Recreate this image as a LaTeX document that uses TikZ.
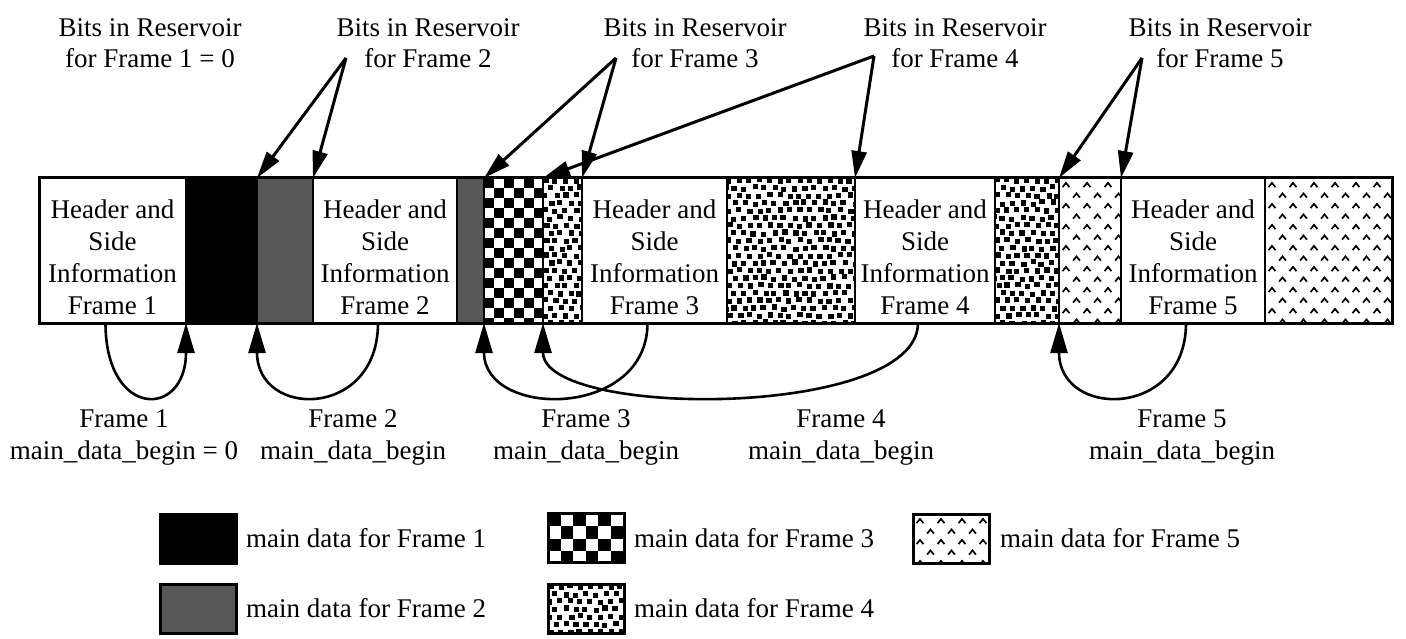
\documentclass[tikz,border=0pt]{standalone}
\usepackage{fontspec}
\setmainfont{Liberation Serif}
\usetikzlibrary{arrows.meta,calc,backgrounds}

% checkerboard: x1 y1 x2 y2 cell
\newcommand{\ckfill}[5]{%
 \begin{scope}
 \clip (#1,#2) rectangle (#3,#4);
 \pgfmathtruncatemacro{\cknx}{ceil((#3-#1)/#5)}
 \pgfmathtruncatemacro{\ckny}{ceil((#4-#2)/#5)}
 \foreach \ci in {0,...,\cknx}{\foreach \cj in {0,...,\ckny}{
   \pgfmathtruncatemacro{\cks}{\ci+\cj}
   \ifodd\cks\else\fill[black] ({#1+\ci*#5},{#2+\cj*#5}) rectangle ++(#5,#5);\fi
 }}
 \end{scope}}

% small black squares: x1 y1 x2 y2
\newcommand{\sqfill}[4]{%
 \begin{scope}
 \clip (#1,#2) rectangle (#3,#4);
 \pgfmathtruncatemacro{\sqnx}{(#3-#1)/10+1}
 \pgfmathtruncatemacro{\sqny}{(#4-#2)/7.5+1}
 \foreach \si in {-1,...,\sqnx}{\foreach \sj in {-1,...,\sqny}{
   \pgfmathsetmacro{\sqx}{#1+\si*10+mod(\sj+2,2)*5+1.6*rand}
   \pgfmathsetmacro{\sqy}{#2+\sj*7.5+1.3*rand}
   \fill[black] (\sqx,\sqy) rectangle ++(5.2,5.2);
 }}
 \end{scope}}

% carets: x1 y1 x2 y2
\newcommand{\crfill}[4]{%
 \begin{scope}
 \clip (#1,#2) rectangle (#3,#4);
 \pgfmathtruncatemacro{\crnx}{(#3-#1)/21+1}
 \pgfmathtruncatemacro{\crny}{(#4-#2)/10.5+1}
 \foreach \ri in {-1,...,\crnx}{\foreach \rj in {0,...,\crny}{
   \pgfmathsetmacro{\crx}{#1+7+\ri*21+mod(\rj,2)*10.5}
   \pgfmathsetmacro{\cry}{#2+7+\rj*10.5}
   \draw[black,line width=1.7pt,line join=miter] (\crx-3.4,\cry+2.1) -- (\crx,\cry-2.1) -- (\crx+3.4,\cry+2.1);
 }}
 \end{scope}}

\begin{document}
\begin{tikzpicture}[x=1pt,y=-1pt,
  seg/.style={draw=black, line width=2.4pt, inner sep=0pt, outer sep=0pt, anchor=north west, minimum height=145pt},
  grayfill/.style={fill=black!66},
  hdrtxt/.style={font=\fontsize{27}{31.7}\selectfont, align=center, inner sep=0pt},
  lbl/.style={font=\fontsize{27}{31}\selectfont, align=center, inner sep=0pt},
  blbl/.style={font=\fontsize{27}{32}\selectfont, align=center, inner sep=0pt},
  toparrow/.style={line width=3pt, -{Triangle[length=27pt,width=15pt]}},
  curvearrow/.style={line width=2.6pt, -{Triangle[length=30pt,width=17pt]}},
  legbox/.style={draw=black, line width=3pt, inner sep=0pt, outer sep=0pt, minimum width=76pt, minimum height=49pt},
  legtxt/.style={font=\fontsize{27}{31}\selectfont, anchor=west, inner sep=0pt},
]
\useasboundingbox (0,0) rectangle (1406,639);

% ---- bar segments ----
\node[seg, minimum width=147pt] (h1) at (39,178) {};
\node[seg, minimum width=71pt, fill=black] (k1) at (186,178) {};
\node[seg, minimum width=56pt, grayfill] (g1) at (257,178) {};
\node[seg, minimum width=144pt] (h2) at (313,178) {};
\node[seg, minimum width=27pt, grayfill] (g2) at (457,178) {};
\node[seg, minimum width=59pt] (c3) at (484,178) {};
\node[seg, minimum width=39pt] (d3) at (543,178) {};
\node[seg, minimum width=145pt] (h3) at (582,178) {};
\node[seg, minimum width=128pt] (d4a) at (727,178) {};
\node[seg, minimum width=140pt] (h4) at (855,178) {};
\node[seg, minimum width=64pt] (d4b) at (995,178) {};
\node[seg, minimum width=62pt] (r5a) at (1059,178) {};
\node[seg, minimum width=144pt] (h5) at (1121,178) {};
\node[seg, minimum width=127pt] (r5b) at (1265,178) {};
\draw[line width=3pt] (h1.north west) rectangle (r5b.south east);

% ---- legend boxes ----
\node[legbox, fill=black] (lb1) at (198.5,538.5) {};
\node[legbox, grayfill] (lb2) at (198.5,608.5) {};
\node[legbox] (lb3) at (586,538) {};
\node[legbox] (lb4) at (586,608.5) {};
\node[legbox] (lb5) at (951,538.5) {};

% ---- patterns (behind the outlines) ----
\begin{scope}[on background layer]
  \fill[white] (0,0) rectangle (1406,639);
  \pgfmathsetseed{17}
  \ckfill{484}{178}{543}{323}{10}
  \sqfill{543}{178}{582}{323}
  \sqfill{727}{178}{855}{323}
  \sqfill{995}{178}{1059}{323}
  \crfill{1059}{178}{1121}{323}
  \crfill{1265}{178}{1392}{323}
  \ckfill{548}{513.5}{624}{562.5}{12.6}
  \sqfill{548}{584}{624}{633}
  \crfill{913}{514}{989}{563}
\end{scope}

% ---- header texts ----
\node[hdrtxt] (t1) at ($(h1.center)+(0,6.8)$) {Header and\\Side\\Information\\Frame 1};
\node[hdrtxt] (t2) at ($(h2.center)+(0,6.8)$) {Header and\\Side\\Information\\Frame 2};
\node[hdrtxt] (t3) at ($(h3.center)+(0,6.8)$) {Header and\\Side\\Information\\Frame 3};
\node[hdrtxt] (t4) at ($(h4.center)+(0,6.8)$) {Header and\\Side\\Information\\Frame 4};
\node[hdrtxt] (t5) at ($(h5.center)+(0,6.8)$) {Header and\\Side\\Information\\Frame 5};

% ---- top labels ----
\node[lbl] (L1) at (150,43.2) {Bits in Reservoir\\for Frame 1 = 0};
\node[lbl] (L2) at (428,43.2) {Bits in Reservoir\\for Frame 2};
\node[lbl] (L3) at (695,43.2) {Bits in Reservoir\\for Frame 3};
\node[lbl] (L4) at (955,43.2) {Bits in Reservoir\\for Frame 4};
\node[lbl] (L5) at (1220,43.2) {Bits in Reservoir\\for Frame 5};

\coordinate (o2) at (346,58);
\coordinate (o3) at (616,58);
\coordinate (o4) at (874,56);
\coordinate (o5) at (1142,58);

\draw[toparrow] (o2) -- (k1.north east);
\draw[toparrow] (o2) -- (g1.north east);
\draw[toparrow] (o3) -- (g2.north east);
\draw[toparrow] (o3) -- (d3.north east);
\draw[toparrow] (o4) -- (c3.north east);
\draw[toparrow] (o4) -- (d4a.north east);
\draw[toparrow] (o5) -- (d4b.north east);
\draw[toparrow] (o5) -- (r5a.north east);

% ---- main_data_begin curves ----
\draw[curvearrow] ($(h1.south)+(-7,0)$) .. controls +(0,96) and +(0,96) .. (h1.south east);
\draw[curvearrow] ($(h2.south)+(-7,0)$) .. controls +(0,96) and +(0,96) .. (k1.south east);
\draw[curvearrow] ($(h3.south)+(-7,0)$) .. controls +(0,96) and +(0,96) .. (g2.south east);
\draw[curvearrow] ($(h4.south)+(-7,0)$) .. controls +(0,96) and +(0,96) .. (c3.south east);
\draw[curvearrow] ($(h5.south)+(-7,0)$) .. controls +(0,96) and +(0,96) .. (d4b.south east);

% ---- bottom labels ----
\node[blbl] (B1) at (124,437.7) {Frame 1\\main\_data\_begin = 0};
\node[blbl] (B2) at (353,437.7) {Frame 2\\main\_data\_begin};
\node[blbl] (B3) at (586,437.7) {Frame 3\\main\_data\_begin};
\node[blbl] (B4) at (841,437.7) {Frame 4\\main\_data\_begin};
\node[blbl] (B5) at (1182,437.7) {Frame 5\\main\_data\_begin};

% ---- legend texts ----
\node[legtxt] (lt1) at (246,538) {main data for Frame 1};
\node[legtxt] (lt2) at (246,608) {main data for Frame 2};
\node[legtxt] (lt3) at (634,538) {main data for Frame 3};
\node[legtxt] (lt4) at (634,608) {main data for Frame 4};
\node[legtxt] (lt5) at (1000,538) {main data for Frame 5};
\end{tikzpicture}
\end{document}
